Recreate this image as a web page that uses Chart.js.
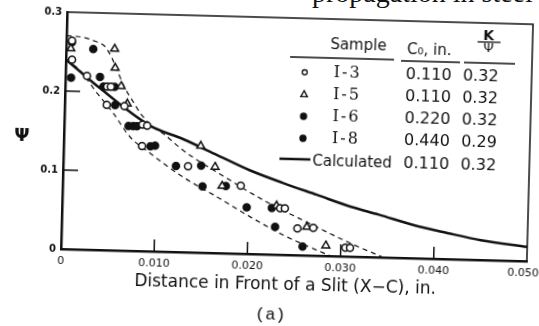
<!DOCTYPE html>
<html>
<head>
<meta charset="utf-8">
<script src="https://cdn.jsdelivr.net/npm/chart.js@4.4.0/dist/chart.umd.min.js"></script>
<style>
    html, body { margin: 0; padding: 0; background: #fff; overflow: hidden; }
    #wrap { position: relative; width: 539px; height: 326px; overflow: hidden; }
    /* the scanned figure is tilted a little, so the canvas is too */
    #chart { position: absolute; left: 0; top: 0; transform: rotate(1.5deg); transform-origin: 61px 249px; }
    #head { position: absolute; left: 312px; top: -21px; font: 28px 'Liberation Serif'; line-height: 28px; white-space: nowrap; color: #111; }
</style>
</head>
<body>
<div id="wrap">
    <div id="head">propagation in steel</div>
    <canvas id="chart" width="560" height="326"></canvas>
</div>
<script>
// ---- data ----
const xTickLabels = ['0', '0.010', '0.020', '0.030', '0.040', '0.050'];
const yTickLabels = ['0', '0.1', '0.2', '0.3'];

// I-3 (open circles)
const i3X = [0.0006, 0.00065, 0.0023, 0.0045, 0.0049, 0.0045, 0.0064, 0.0084, 0.0089, 0.0084, 0.0134, 0.0191, 0.0234, 0.0239, 0.0253, 0.0270, 0.0305, 0.0310];
const i3Y = [0.264, 0.240, 0.220, 0.207, 0.207, 0.184, 0.183, 0.160, 0.159, 0.133, 0.109, 0.086, 0.059, 0.059, 0.034, 0.035, 0.011, 0.011];

// I-5 (open triangles)
const i5X = [0.0005, 0.0052, 0.0053, 0.0060, 0.0067, 0.0147, 0.0163, 0.0171, 0.0230, 0.0263, 0.0284];
const i5Y = [0.254, 0.255, 0.231, 0.208, 0.186, 0.135, 0.109, 0.085, 0.062, 0.036, 0.013];

// I-6 and I-8 (both solid circles)
const i6X = [0.0006, 0.0006, 0.0053, 0.0069, 0.0078, 0.0098, 0.0148, 0.0175, 0.0225, 0.0259];
const i6Y = [0.262, 0.217, 0.207, 0.158, 0.158, 0.134, 0.110, 0.085, 0.059, 0.011];
const i8X = [0.0029, 0.0037, 0.0041, 0.0054, 0.0074, 0.0093, 0.0121, 0.0150, 0.0198, 0.0229];
const i8Y = [0.254, 0.219, 0.207, 0.184, 0.158, 0.133, 0.109, 0.084, 0.059, 0.035];

// calculated curve
const calcX = [0, 0.0037, 0.0092, 0.0128, 0.0165, 0.0200, 0.0236, 0.0273, 0.0310, 0.0340, 0.0377, 0.0414, 0.0450, 0.0500];
const calcY = [0.240, 0.205, 0.159, 0.143, 0.124, 0.106, 0.091, 0.077, 0.063, 0.054, 0.042, 0.033, 0.025, 0.018];

// dashed scatter band
const upperX = [0, 0.0015, 0.0031, 0.0042, 0.0049, 0.0056, 0.0064, 0.0072, 0.0081, 0.0092, 0.0108, 0.0128, 0.0176, 0.0215, 0.0263, 0.0310, 0.0346];
const upperY = [0.270, 0.269, 0.264, 0.257, 0.244, 0.226, 0.206, 0.191, 0.175, 0.161, 0.148, 0.129, 0.095, 0.069, 0.042, 0.017, 0];
const lowerX = [0, 0.0015, 0.0034, 0.0052, 0.0071, 0.0093, 0.0129, 0.0166, 0.0202, 0.0238, 0.0281, 0.0290];
const lowerY = [0.240, 0.227, 0.199, 0.174, 0.144, 0.124, 0.095, 0.071, 0.047, 0.025, 0.004, 0];

// legend table
const sampleNames = ['I-3', 'I-5', 'I-6', 'I-8', 'Calculated'];
const c0Values = ['0.110', '0.110', '0.220', '0.440', '0.110'];
const kValues = ['0.32', '0.32', '0.32', '0.29', '0.32'];

const INK = '#111';
const pts = (xs, ys) => xs.map((x, i) => ({ x: x, y: ys[i] }));

const markerSet = (label, xs, ys, style, fill, r) => ({
    label: label,
    data: pts(xs, ys),
    pointStyle: style,
    pointRadius: r,
    pointBackgroundColor: fill,
    pointBorderColor: INK,
    pointBorderWidth: 1.5,
    showLine: false
});

const curveSet = (label, xs, ys, width, dash) => ({
    label: label,
    data: pts(xs, ys),
    showLine: true,
    borderColor: INK,
    borderWidth: width,
    borderDash: dash,
    pointRadius: 0,
    fill: false,
    cubicInterpolationMode: 'monotone'
});

/**
 * frame, inward ticks, titles and the legend table
 */
const decorPlugin = {
    id: 'decor',
    beforeDatasetsDraw(chart) {
        const { ctx, chartArea: a, scales: { x, y } } = chart;
        ctx.save();
        ctx.strokeStyle = INK;
        ctx.lineWidth = 1.5;
        ctx.beginPath();
        ctx.moveTo(a.left, a.top);
        ctx.lineTo(a.right, a.top);
        ctx.lineTo(a.right, a.bottom);
        ctx.stroke();

        // ticks point into the plot
        ctx.beginPath();
        x.ticks.forEach(t => {
            if (t.value <= 0 || t.value >= x.max) return;
            const px = x.getPixelForValue(t.value);
            ctx.moveTo(px, a.bottom);
            ctx.lineTo(px, a.bottom - 12);
        });
        y.ticks.forEach(t => {
            if (t.value <= 0 || t.value >= y.max) return;
            const py = y.getPixelForValue(t.value);
            ctx.moveTo(a.left, py);
            ctx.lineTo(a.left + 15, py);
        });
        ctx.stroke();
        ctx.restore();
    },
    afterDraw(chart) {
        const { ctx } = chart;
        ctx.save();
        ctx.fillStyle = INK;
        ctx.strokeStyle = INK;
        ctx.textBaseline = 'middle';

        // axis titles
        ctx.textAlign = 'center';
        ctx.font = 'bold 18px "DejaVu Sans"';
        ctx.fillText('Ψ', 19, 137);
        ctx.font = '17px "DejaVu Sans"';
        ctx.fillText('Distance in Front of a Slit (X−C), in.', 286, 280);
        ctx.font = '17px "Liberation Mono"';
        ctx.fillText('(a)', 272, 309);

        // legend header
        ctx.font = '15px "DejaVu Sans"';
        ctx.fillText('Sample', 353, 38);
        ctx.fillText('C₀, in.', 424, 41);
        ctx.font = 'bold 14px "DejaVu Sans"';
        ctx.fillText('K', 483, 25);
        ctx.font = '13px "DejaVu Sans"';
        ctx.fillText('Ψ', 483, 38);
        ctx.lineWidth = 1.3;
        ctx.beginPath();
        ctx.moveTo(472, 31); ctx.lineTo(495, 31);
        ctx.stroke();

        ctx.beginPath();
        ctx.moveTo(285, 51); ctx.lineTo(389, 51);
        ctx.moveTo(396, 52); ctx.lineTo(455, 52);
        ctx.moveTo(459, 52); ctx.lineTo(510, 52);
        ctx.stroke();

        // legend rows
        const rowY = [66, 88, 110, 132, 155];
        sampleNames.forEach((name, i) => {
            const yy = rowY[i];
            const ds = chart.data.datasets[i];
            if (i < 4) {
                const r = ds.pointStyle === 'triangle' ? 3 : (ds.pointBackgroundColor === INK ? 3 : 2.5);
                ctx.lineWidth = 1.3;
                ctx.fillStyle = ds.pointBackgroundColor;
                ctx.beginPath();
                if (ds.pointStyle === 'triangle') {
                    ctx.moveTo(300, yy - r * 1.2);
                    ctx.lineTo(300 + r * 1.1, yy + r * 0.8);
                    ctx.lineTo(300 - r * 1.1, yy + r * 0.8);
                    ctx.closePath();
                } else {
                    ctx.arc(300, yy, r, 0, Math.PI * 2);
                }
                ctx.fill();
                ctx.stroke();
                ctx.fillStyle = INK;
                ctx.textAlign = 'left';
                ctx.font = '16px "DejaVu Serif"';
                ctx.letterSpacing = '2px';
                ctx.fillText(name, 329, yy);
                ctx.letterSpacing = '0px';
            } else {
                ctx.lineWidth = 2.5;
                ctx.beginPath();
                ctx.moveTo(277, yy - 2);
                ctx.lineTo(308, yy - 2);
                ctx.stroke();
                ctx.textAlign = 'left';
                ctx.font = '15px "DejaVu Sans"';
                ctx.fillText(name, 310, yy);
            }
            ctx.textAlign = 'center';
            ctx.font = '16px "DejaVu Sans"';
            ctx.fillText(c0Values[i], 424, yy);
            ctx.fillText(kValues[i], 476, yy);
        });
        ctx.restore();
    }
};

const chart = new Chart(document.getElementById('chart'), {
    type: 'scatter',
    data: {
        datasets: [
            markerSet('I-3', i3X, i3Y, 'circle', '#fff', 3.5),
            markerSet('I-5', i5X, i5Y, 'triangle', '#fff', 4.5),
            markerSet('I-6', i6X, i6Y, 'circle', INK, 3.5),
            markerSet('I-8', i8X, i8Y, 'circle', INK, 3.5),
            curveSet('Calculated', calcX, calcY, 2.5, []),
            curveSet('upper bound', upperX, upperY, 1.2, [5, 4]),
            curveSet('lower bound', lowerX, lowerY, 1.2, [5, 4])
        ]
    },
    options: {
        responsive: false,
        animation: false,
        devicePixelRatio: 1,
        clip: false,
        layout: { padding: { left: 0, top: 12, right: 33, bottom: 0 } },
        plugins: {
            legend: { display: false },
            tooltip: { enabled: false }
        },
        scales: {
            x: {
                type: 'linear',
                min: 0,
                max: 0.05,
                afterFit: s => { s.height = 77; },
                grid: { display: false, drawTicks: false },
                border: { display: true, color: INK, width: 2.5 },
                ticks: {
                    stepSize: 0.01,
                    padding: 6,
                    maxRotation: 0,
                    color: INK,
                    font: { family: 'DejaVu Sans', size: 11 },
                    // last label sits a little left of its tick in the scan
                    callback: (v, i) => i === xTickLabels.length - 1 ? xTickLabels[i] + '\u2007' : xTickLabels[i]
                }
            },
            y: {
                type: 'linear',
                min: 0,
                max: 0.3,
                afterFit: s => { s.width = 61; },
                grid: { display: false, drawTicks: false },
                border: { display: true, color: INK, width: 2.5 },
                ticks: {
                    stepSize: 0.1,
                    padding: 5,
                    color: INK,
                    font: { family: 'DejaVu Sans', size: 10, weight: 'bold' },
                    callback: (v, i) => yTickLabels[i]
                }
            }
        }
    },
    plugins: [decorPlugin]
});
</script>
</body>
</html>
